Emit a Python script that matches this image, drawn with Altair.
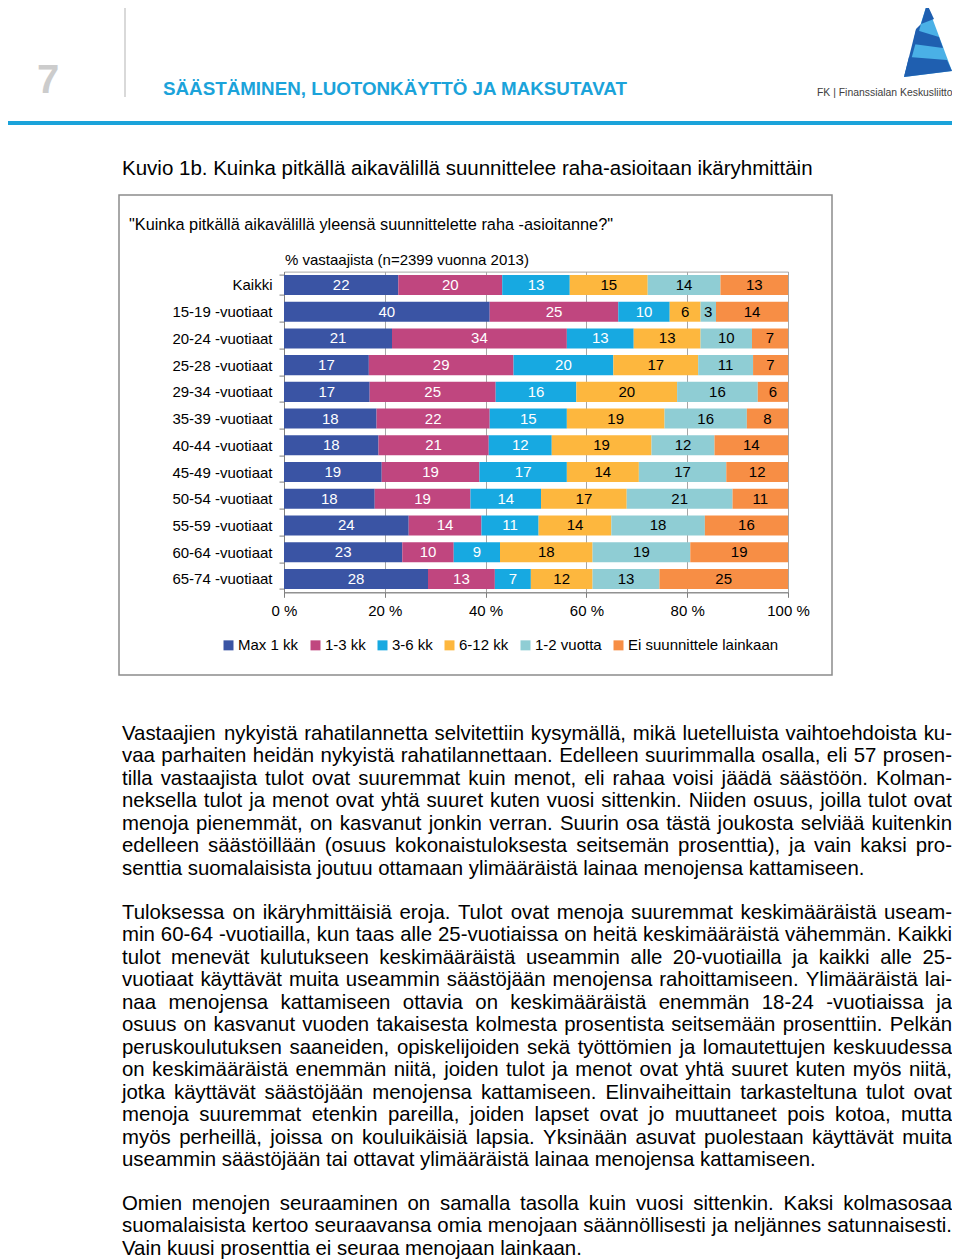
import altair as alt
import pandas as pd

# ---------------- data ----------------
groups = ["Kaikki", "15-19 -vuotiaat", "20-24 -vuotiaat", "25-28 -vuotiaat",
          "29-34 -vuotiaat", "35-39 -vuotiaat", "40-44 -vuotiaat", "45-49 -vuotiaat",
          "50-54 -vuotiaat", "55-59 -vuotiaat", "60-64 -vuotiaat", "65-74 -vuotiaat"]
categories = ["Max 1 kk", "1-3 kk", "3-6 kk", "6-12 kk", "1-2 vuotta", "Ei suunnittele lainkaan"]
max_1kk = [22, 40, 21, 17, 17, 18, 18, 19, 18, 24, 23, 28]
kk_1_3 = [20, 25, 34, 29, 25, 22, 21, 19, 19, 14, 10, 13]
kk_3_6 = [13, 10, 13, 20, 16, 15, 12, 17, 14, 11, 9, 7]
kk_6_12 = [15, 6, 13, 17, 20, 19, 19, 14, 17, 14, 18, 12]
v_1_2 = [14, 3, 10, 11, 16, 16, 12, 17, 21, 18, 19, 13]
ei_lainkaan = [13, 14, 7, 7, 6, 8, 14, 12, 11, 16, 19, 25]
x_ticks = [0, 0.2, 0.4, 0.6, 0.8, 1.0]

series = [max_1kk, kk_1_3, kk_3_6, kk_6_12, v_1_2, ei_lainkaan]
colors = ["#3A54A4", "#C0467F", "#17A9E1", "#FDB73E", "#8FCDD4", "#F78E45"]

header_title = "SÄÄSTÄMINEN, LUOTONKÄYTTÖ JA MAKSUTAVAT"
figure_title = "Kuvio 1b. Kuinka pitkällä aikavälillä suunnittelee raha-asioitaan ikäryhmittäin"
question = "\"Kuinka pitkällä aikavälillä yleensä suunnittelette raha -asioitanne?\""
subtitle = "% vastaajista (n=2399 vuonna 2013)"
logo_text = "FK | Finanssialan Keskusliitto"

para1 = [
    "Vastaajien nykyistä rahatilannetta selvitettiin kysymällä, mikä luetelluista vaihtoehdoista ku-",
    "vaa parhaiten heidän nykyistä rahatilannettaan. Edelleen suurimmalla osalla, eli 57 prosen-",
    "tilla vastaajista tulot ovat suuremmat kuin menot, eli rahaa voisi jäädä säästöön. Kolman-",
    "neksella tulot ja menot ovat yhtä suuret kuten vuosi sittenkin. Niiden osuus, joilla tulot ovat",
    "menoja pienemmät, on kasvanut jonkin verran. Suurin osa tästä joukosta selviää kuitenkin",
    "edelleen säästöillään (osuus kokonaistuloksesta seitsemän prosenttia), ja vain kaksi pro-",
    "senttia suomalaisista joutuu ottamaan ylimääräistä lainaa menojensa kattamiseen.",
]
para2 = [
    "Tuloksessa on ikäryhmittäisiä eroja. Tulot ovat menoja suuremmat keskimääräistä useam-",
    "min 60-64 -vuotiailla, kun taas alle 25-vuotiaissa on heitä keskimääräistä vähemmän. Kaikki",
    "tulot menevät kulutukseen keskimääräistä useammin alle 20-vuotiailla ja kaikki alle 25-",
    "vuotiaat käyttävät muita useammin säästöjään menojensa rahoittamiseen. Ylimääräistä lai-",
    "naa menojensa kattamiseen ottavia on keskimääräistä enemmän 18-24 -vuotiaissa ja",
    "osuus on kasvanut vuoden takaisesta kolmesta prosentista seitsemään prosenttiin. Pelkän",
    "peruskoulutuksen saaneiden, opiskelijoiden sekä työttömien ja lomautettujen keskuudessa",
    "on keskimääräistä enemmän niitä, joiden tulot ja menot ovat yhtä suuret kuten myös niitä,",
    "jotka käyttävät säästöjään menojensa kattamiseen. Elinvaiheittain tarkasteltuna tulot ovat",
    "menoja suuremmat etenkin pareilla, joiden lapset ovat jo muuttaneet pois kotoa, mutta",
    "myös perheillä, joissa on kouluikäisiä lapsia. Yksinään asuvat puolestaan käyttävät muita",
    "useammin säästöjään tai ottavat ylimääräistä lainaa menojensa kattamiseen.",
]
para3 = [
    "Omien menojen seuraaminen on samalla tasolla kuin vuosi sittenkin. Kaksi kolmasosaa",
    "suomalaisista kertoo seuraavansa omia menojaan säännöllisesti ja neljännes satunnaisesti.",
    "Vain kuusi prosenttia ei seuraa menojaan lainkaan.",
]

# ---------------- layout constants ----------------
FONT = "Liberation Sans, Arial, sans-serif"
PL, PT = 284.0, 271.6          # plot origin on the page
W_PLOT, H_PLOT = 504, 320.7
SVG_W, SVG_H = 944, 1252
pad = {"left": PL - 8, "top": PT - 8,
       "right": SVG_W - (PL - 8) - W_PLOT, "bottom": SVG_H - (PT - 8) - H_PLOT}

# Arial / Liberation Sans advance widths (per 1000 em)
AW = {' ': 278, '!': 278, '"': 355, '%': 889, "'": 191, '(': 333, ')': 333, ',': 278,
      '-': 333, '.': 278, '/': 278, ':': 278, ';': 278, '?': 556, '|': 260, '=': 584}
for d in "0123456789":
    AW[d] = 556
AW.update(dict(zip("ABCDEFGHIJKLMNOPQRSTUVWXYZ",
                   [667, 667, 722, 722, 667, 611, 778, 722, 278, 500, 667, 556, 833, 722, 778,
                    667, 778, 722, 667, 611, 722, 667, 944, 667, 667, 611])))
AW.update(dict(zip("abcdefghijklmnopqrstuvwxyz",
                   [556, 556, 500, 556, 556, 278, 556, 556, 222, 222, 500, 222, 833, 556, 556,
                    556, 556, 333, 500, 278, 556, 500, 722, 500, 500, 500])))
AW.update({'ä': 556, 'ö': 556, 'å': 556, 'Ä': 667, 'Ö': 778, 'Å': 667})


def text_width(s, size):
    return sum(AW.get(ch, 556) for ch in s) * size / 1000.0


BODY_FS = 20.4
LINE_H = 22.45
X0, X1 = 122.0, 952.0

left_words, right_words = [], []
for para, base_y in [(para1, 740.0), (para2, 919.0), (para3, 1210.0)]:
    for i, line in enumerate(para):
        y = base_y + i * LINE_H
        if i == len(para) - 1:
            left_words.append({"px": X0 - PL, "py": y - PT, "w": line})
            continue
        words = line.split(" ")
        widths = [text_width(w, BODY_FS) for w in words]
        gap = (X1 - X0 - sum(widths)) / (len(words) - 1)
        x = X0
        for j, (w, wd) in enumerate(zip(words, widths)):
            if j == len(words) - 1:
                right_words.append({"px": X1 - PL, "py": y - PT, "w": w})
            else:
                left_words.append({"px": x - PL, "py": y - PT, "w": w})
            x += wd + gap

rows = []
for gi, g in enumerate(groups):
    for ci, c in enumerate(categories):
        rows.append({"group": g, "cat": c, "order": ci, "value": series[ci][gi]})
df = pd.DataFrame(rows)

# ---------------- bar chart ----------------
ysc = alt.Scale(paddingInner=0.25, paddingOuter=0.125)
xsc = alt.Scale(domain=[0, 1], nice=False)
base = alt.Chart(df).transform_stack(
    stack="value", groupby=["group"], sort=[alt.SortField("order", order="ascending")],
    as_=["v0", "v1"], offset="normalize"
).transform_calculate(mid="(datum.v0 + datum.v1) / 2")

bars = base.mark_bar().encode(
    x=alt.X("v0:Q", scale=xsc,
            axis=alt.Axis(values=x_ticks, labelExpr="round(datum.value * 100) + ' %'",
                          title=None, tickSize=5, tickColor="#7F7F7F", domainColor="#7F7F7F",
                          labelFontSize=15, labelFont=FONT, labelColor="#000000", labelPadding=6,
                          labelFlush=False, labelOverlap=False,
                          grid=True, gridColor="#A6A6A6", gridWidth=1)),
    x2="v1:Q",
    y=alt.Y("group:N", sort=groups, scale=ysc,
            axis=alt.Axis(title=None, tickBand="extent", tickSize=5, tickColor="#7F7F7F",
                          domainColor="#7F7F7F", labelFontSize=15, labelFont=FONT,
                          labelColor="#000000", labelPadding=7, grid=False)),
    color=alt.Color("cat:N", scale=alt.Scale(domain=categories, range=colors),
                    legend=alt.Legend(orient="none", legendX=-63, legendY=366, direction="horizontal",
                                      title=None, symbolType="square", symbolSize=100,
                                      symbolStrokeWidth=0, labelFontSize=15, labelFont=FONT,
                                      labelColor="#000000", columnPadding=9, labelOffset=2,
                                      padding=0, columns=6)),
    order=alt.Order("order:Q"),
)

labels = base.mark_text(fontSize=15, font=FONT, baseline="middle", align="center").encode(
    x=alt.X("mid:Q", scale=xsc),
    y=alt.Y("group:N", sort=groups, scale=ysc),
    text=alt.Text("value:Q"),
    color=alt.condition("datum.order < 3", alt.value("#FFFFFF"), alt.value("#000000")),
)

# ---------------- page decorations ----------------
one = alt.Data(values=[{}])


def txt(s, x, y, **kw):
    params = dict(align="left", baseline="alphabetic", font=FONT, color="#000000")
    params.update(kw)
    return alt.Chart(one).mark_text(**params).encode(
        x=alt.value(x - PL), y=alt.value(y - PT), text=alt.value(s))


def hrule(x1, x2, y, color, w):
    return alt.Chart(one).mark_rule(color=color, strokeWidth=w).encode(
        x=alt.value(x1 - PL), x2=alt.value(x2 - PL), y=alt.value(y - PT))


def vrule(x, y1, y2, color, w):
    return alt.Chart(one).mark_rule(color=color, strokeWidth=w).encode(
        x=alt.value(x - PL), y=alt.value(y1 - PT), y2=alt.value(y2 - PT))


def poly(pts, color, cx=928.0, cy=40.0, half=50.0):
    path = "M" + " L".join(f"{(px - cx) / half:.4f},{(py - cy) / half:.4f}" for px, py in pts) + " Z"
    return alt.Chart(one).mark_point(shape=path, filled=True, color=color, opacity=1,
                                     strokeWidth=0, size=(2 * half) ** 2).encode(
        x=alt.value(cx - PL), y=alt.value(cy - PT))


frame = alt.Chart(one).mark_rect(fillOpacity=0, stroke="#8C8C8C", strokeWidth=1.5).encode(
    x=alt.value(119 - PL), x2=alt.value(832 - PL), y=alt.value(195 - PT), y2=alt.value(675 - PT))

logo_light = "#4AB0E6"
logo_dark = "#1F5FB0"
logo = [
    poly([(927, 4), (952, 71), (904, 77)], logo_light),
    poly([(927, 4), (934, 19), (921, 24)], logo_dark),
    poly([(921, 24), (916, 29), (904, 77), (911, 60)], logo_dark),
    poly([(916, 30), (939, 37), (943, 48), (913, 44)], logo_dark),
    poly([(909, 57), (947, 60), (952, 71), (904, 77)], logo_dark),
]

body_left = alt.Chart(pd.DataFrame(left_words)).mark_text(
    align="left", baseline="alphabetic", fontSize=BODY_FS, font=FONT, color="#000000").encode(
    x=alt.X("px:Q", scale=None, axis=None), y=alt.Y("py:Q", scale=None, axis=None), text="w:N")
body_right = alt.Chart(pd.DataFrame(right_words)).mark_text(
    align="right", baseline="alphabetic", fontSize=BODY_FS, font=FONT, color="#000000").encode(
    x=alt.X("px:Q", scale=None, axis=None), y=alt.Y("py:Q", scale=None, axis=None), text="w:N")

decor = [
    frame,
    vrule(125, 8, 97, "#D9D9D9", 2),
    hrule(8, 955, 123, "#1BA3DA", 4),
    txt("7", 48, 93, align="center", fontSize=40, fontWeight="bold", color="#CCCCCC"),
    txt(header_title, 163, 95, fontSize=18.8, fontWeight="bold", color="#1BA3DA"),
    txt(logo_text, 817, 96, fontSize=10.4, color="#404040"),
    txt(figure_title, 122, 175, fontSize=20.5),
    txt(question, 129, 230, fontSize=16.3),
    txt(subtitle, 285, 264.5, fontSize=15),
] + logo

chart = alt.layer(
    bars, labels, *decor, body_left, body_right
).properties(
    width=W_PLOT, height=H_PLOT,
    autosize=alt.AutoSizeParams(type="none"),
    padding=pad,
    background="#FFFFFF",
).configure_view(
    stroke="#A6A6A6", strokeWidth=1
)

chart.save("out.html", embed_options={"renderer": "svg", "actions": False})
